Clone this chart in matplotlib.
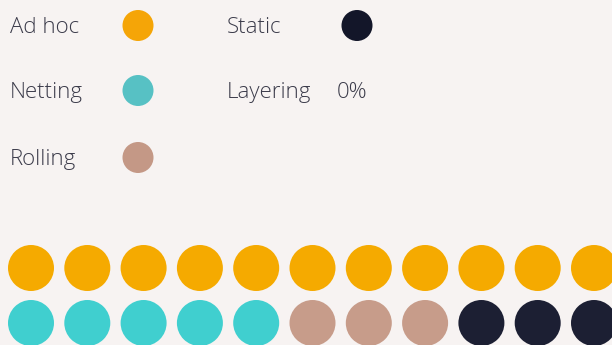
import matplotlib.pyplot as plt
from matplotlib.patches import Circle

# Легенда
legend_labels = ["Ad hoc", "Netting", "Rolling", "Static", "Layering"]
legend_colors = ["#F5A507", "#57C1C4", "#C49886", "#131629", None]
legend_values = [None, None, None, None, "0%"]

# Точки (по рядам): категория, количество
row1_cats = ["Ad hoc"]
row1_counts = [11]
row2_cats = ["Netting", "Rolling", "Static"]
row2_counts = [5, 3, 3]
dot_colors = {"Ad hoc": "#F5AA00", "Netting": "#40CFCF", "Rolling": "#C79C8A", "Static": "#1C1F33"}

bg = "#F7F3F2"
text_color = "#3B3B4A"

fig = plt.figure(figsize=(6.12, 3.45), dpi=100, facecolor=bg)
ax = fig.add_axes([0, 0, 1, 1])
ax.set_xlim(0, 612)
ax.set_ylim(345, 0)
ax.set_aspect("equal")
ax.axis("off")
ax.set_facecolor(bg)

# Легенда: две колонки
col_x = [10, 227]
circle_x = [138, 357]
row_y = [25, 90, 157]
for i, (lab, col, val) in enumerate(zip(legend_labels, legend_colors, legend_values)):
    c, r = divmod(i, 3)
    x0, y0 = col_x[c], row_y[r]
    ax.text(x0, y0 + 2.5, lab, fontsize=16, color=text_color, va="center", ha="left",
            family="Open Sans", fontweight="light")
    if col is not None:
        ax.add_patch(Circle((circle_x[c], y0 + 0.5), 15.5, color=col, lw=0))
    elif val is not None:
        ax.text(x0 + 110, y0 + 2.5, val, fontsize=16, color=text_color, va="center", ha="left",
                family="Open Sans", fontweight="light")

# Точечная диаграмма
x_start = 31
step = 56.3
rad = 23
for y, cats, counts in [(268, row1_cats, row1_counts), (323, row2_cats, row2_counts)]:
    k = 0
    for cat, n in zip(cats, counts):
        for _ in range(n):
            ax.add_patch(Circle((x_start + k * step, y), rad, color=dot_colors[cat], lw=0))
            k += 1

fig.savefig("out.png", dpi=100, facecolor=bg)
